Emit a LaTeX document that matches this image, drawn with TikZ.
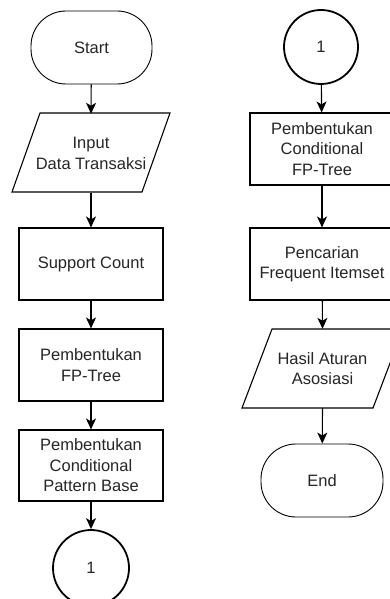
\documentclass[tikz,border=0pt]{standalone}
\usepackage{fontspec}
\setmainfont{Liberation Sans}
\usetikzlibrary{arrows.meta}
\begin{document}
\begin{tikzpicture}[x=1pt,y=-1pt,
  every node/.style={font=\fontsize{16.5pt}{20.5pt}\selectfont, text=black!85, align=center, inner sep=0pt},
  procbox/.style={draw, line width=1.1pt, minimum width=144pt, minimum height=72pt},
  termbox/.style={draw, line width=0.9pt, rounded corners=35pt, minimum width=121pt, minimum height=73pt},
  connbox/.style={draw, circle, line width=1.8pt, minimum size=#1},
  iobox/.style={minimum width=130pt, minimum height=79pt},
  slantline/.style={line width=1.1pt, line join=miter},
  flow/.style={line width=1.1pt, -{Stealth[length=11pt, width=10pt, inset=3pt]}}
]
\clip (0,0) rectangle (390,599);
\fill[white] (0,0) rectangle (390,599);

% left column
\node[termbox] (start) at (91.5,47.5) {Start};
\node[iobox] (input) at (91,153.5) {Input\\Data Transaksi};
\draw[slantline] (40,113) -- (170,113) -- (142,192) -- (12,192) -- cycle;
\node[procbox] (support) at (91,264) {Support Count};
\node[procbox] (fptree) at (91,365) {Pembentukan\\FP-Tree};
\node[procbox, minimum height=71pt] (cpb) at (91,465.5) {Pembentukan\\Conditional\\Pattern Base};
\node[connbox=76pt] (c1a) at (91,568) {1};

% right column
\node[connbox=74pt] (c1b) at (321,47) {1};
\node[procbox] (cfptree) at (322,149) {Pembentukan\\Conditional\\FP-Tree};
\node[procbox] (freq) at (322,264) {Pencarian\\Frequent Itemset};
\node[iobox] (hasil) at (322.5,368.5) {Hasil Aturan\\Asosiasi};
\draw[slantline] (272,329) -- (403,329) -- (373,408) -- (242,408) -- cycle;
\node[termbox, minimum width=122pt] (end) at (322,480.5) {End};

% connectors
\draw[flow] (start) -- (input.north);
\draw[flow] (input.south) -- (support);
\draw[flow] (support) -- (fptree);
\draw[flow] (fptree) -- (cpb);
\draw[flow] (cpb) -- (c1a);
\draw[flow] (c1b) -- (cfptree);
\draw[flow] (cfptree) -- (freq);
\draw[flow] (freq) -- (hasil.north);
\draw[flow] (hasil.south) -- (end);
\end{tikzpicture}
\end{document}
